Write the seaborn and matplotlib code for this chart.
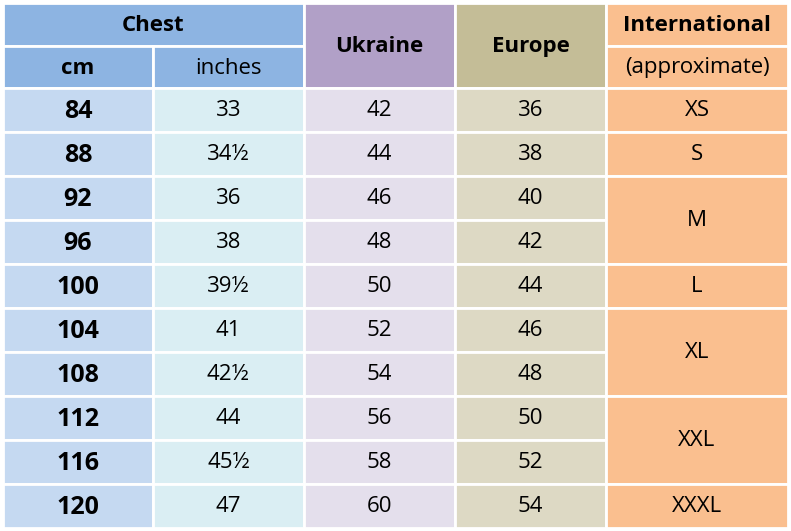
import matplotlib
matplotlib.use("Agg")
import matplotlib.pyplot as plt
import seaborn as sns
from matplotlib.patches import Rectangle

sns.set_theme(style="white", font="Open Sans")

cm = ["84", "88", "92", "96", "100", "104", "108", "112", "116", "120"]
inches = ["33", "34½", "36", "38", "39½", "41", "42½", "44", "45½", "47"]
ukraine = ["42", "44", "46", "48", "50", "52", "54", "56", "58", "60"]
europe = ["36", "38", "40", "42", "44", "46", "48", "50", "52", "54"]
intl_labels = ["XS", "S", "M", "L", "XL", "XXL", "XXXL"]
intl_spans = [1, 1, 2, 1, 2, 2, 1]

col_x = [3, 153, 304, 455, 606, 788]
head_y = [3, 46, 88]
row_h = 44
data_cols = [cm, inches, ukraine, europe]
head_colors = ["#8DB4E2", "#8DB4E2", "#B1A0C7", "#C4BD97", "#FABF8F"]
body_colors = ["#C5D9F1", "#DAEEF3", "#E4DFEC", "#DDD9C4", "#FABF8F"]

fig = plt.figure(figsize=(7.91, 5.31), dpi=100)
ax = fig.add_axes([0, 0, 1, 1])
ax.set_xlim(0, 791)
ax.set_ylim(531, 0)
ax.axis("off")

def cell(x0, x1, y0, y1, color, text, bold=False, size=16):
    ax.add_patch(Rectangle((x0, y0), x1 - x0, y1 - y0, facecolor=color,
                           edgecolor="white", linewidth=2))
    ax.text((x0 + x1) / 2, (y0 + y1) / 2 + 1, text, ha="center", va="center",
            fontsize=size, fontweight="bold" if bold else "normal", color="black")

# header
cell(col_x[0], col_x[2], head_y[0], head_y[1], head_colors[0], "Chest", True)
cell(col_x[0], col_x[1], head_y[1], head_y[2], head_colors[0], "cm", True)
cell(col_x[1], col_x[2], head_y[1], head_y[2], head_colors[1], "inches")
cell(col_x[2], col_x[3], head_y[0], head_y[2], head_colors[2], "Ukraine", True)
cell(col_x[3], col_x[4], head_y[0], head_y[2], head_colors[3], "Europe", True)
cell(col_x[4], col_x[5], head_y[0], head_y[1], head_colors[4], "International", True)
cell(col_x[4], col_x[5], head_y[1], head_y[2], head_colors[4], "(approximate)")

# body
for c, vals in enumerate(data_cols):
    for r, v in enumerate(vals):
        y0 = head_y[2] + r * row_h
        cell(col_x[c], col_x[c + 1], y0, y0 + row_h, body_colors[c], v,
             bold=(c == 0), size=18 if c == 0 else 16)

r = 0
for lab, span in zip(intl_labels, intl_spans):
    y0 = head_y[2] + r * row_h
    cell(col_x[4], col_x[5], y0, y0 + span * row_h, body_colors[4], lab)
    r += span

fig.savefig("out.png", dpi=100)
